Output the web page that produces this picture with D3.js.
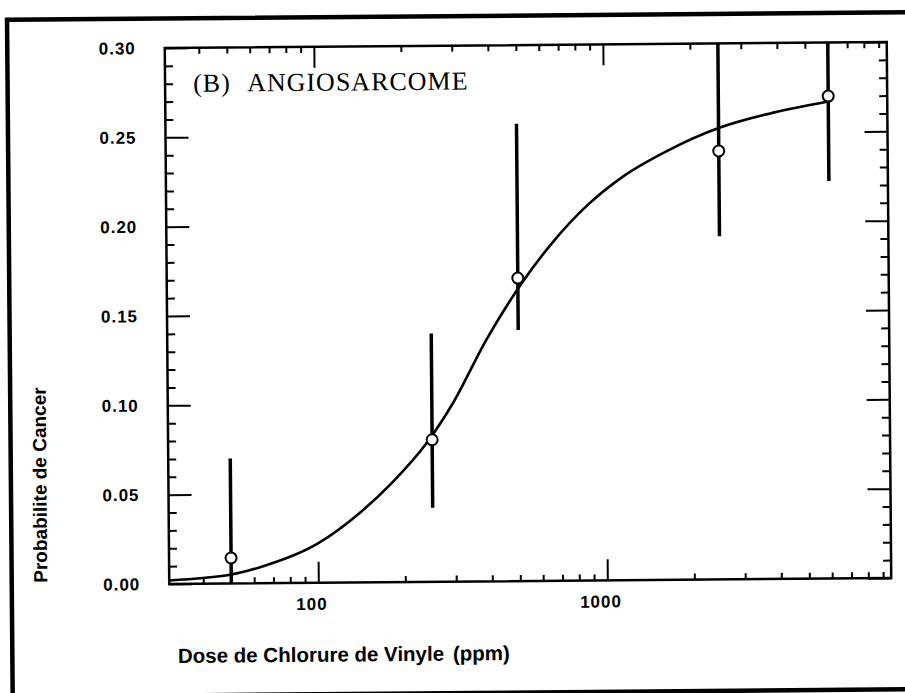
<!DOCTYPE html>
<html>
<head>
<meta charset="utf-8">
<script src="https://cdn.jsdelivr.net/npm/d3@7"></script>
<style>
  body { margin: 0; background: #fff; }
  svg { display: block; }
</style>
</head>
<body>
<script>
// points mesures: dose (ppm), probabilite et intervalle
var doses = [50, 250, 500, 2500, 6000];
var probabilites = [0.0143, 0.0795, 0.1696, 0.2398, 0.270];
var bornesBasses = [0.0, 0.0414, 0.1405, 0.192, 0.2225];
var bornesHautes = [0.070, 0.139, 0.256, 0.30, 0.30];

// courbe ajustee, lue point par point sur la figure
var courbeDoses = [30.5, 50, 63, 100, 140, 182, 240, 296, 387, 512, 666, 881, 1153, 1679, 2500, 3873, 6000];
var courbeProbas = [0.002, 0.005, 0.009, 0.022, 0.039, 0.056, 0.078, 0.100, 0.135, 0.166, 0.190, 0.2105, 0.2255, 0.2405, 0.2526, 0.261, 0.267];

// graduations
var yGraduations = [0, 0.05, 0.10, 0.15, 0.20, 0.25, 0.30];
var xGraduations = [100, 1000];
var xEtiquettes = ["100", "1000"];

var breedte = 905, hoogte = 693;
var marge = {links: 167, rechts: 889, boven: 45, beneden: 581};

var svg = d3.select("body").append("svg")
    .attr("width", breedte)
    .attr("height", hoogte);

// le scan est legerement tourne
var g = svg.append("g")
    .attr("transform", "rotate(-0.48, 528, 313)");

// cadre exterieur
g.append("rect")
    .attr("x", 9.5).attr("y", 15.5)
    .attr("width", 930).attr("height", 677)
    .attr("fill", "none")
    .attr("stroke", "#000")
    .attr("stroke-width", 4.5);

var x = d3.scaleLog()
    .domain([30.5, 9600])
    .range([marge.links, marge.rechts]);

var y = d3.scaleLinear()
    .domain([0, 0.30])
    .range([marge.beneden, marge.boven]);

var xMineures = x.ticks().filter(function(d) { return xGraduations.indexOf(d) < 0; });
var yMineures = y.ticks(30).filter(function(d) {
  return yGraduations.every(function(m) { return Math.abs(m - d) > 1e-6; });
});

function stijl(sel) {
  sel.select(".domain").remove();
  sel.selectAll(".tick line").attr("stroke", "#000").attr("stroke-width", 2);
  sel.selectAll("text")
    .attr("fill", "#000")
    .style("font-family", "'Liberation Sans', Arial, sans-serif")
    .style("font-weight", "bold")
    .style("font-size", "17px")
    .style("letter-spacing", "1px");
}

// axe y gauche
g.append("g")
    .attr("transform", "translate(" + marge.links + ",0)")
    .call(d3.axisLeft(y).tickValues(yGraduations).tickSizeInner(-23).tickSizeOuter(0)
      .tickPadding(29).tickFormat(d3.format(".2f")))
    .call(stijl);
g.append("g")
    .attr("transform", "translate(" + marge.links + ",0)")
    .call(d3.axisLeft(y).tickValues(yMineures).tickSizeInner(-8).tickSizeOuter(0).tickFormat(""))
    .call(stijl);

// axe y droit
g.append("g")
    .attr("transform", "translate(" + marge.rechts + ",0)")
    .call(d3.axisRight(y).tickValues(yGraduations).tickSizeInner(-23).tickSizeOuter(0).tickFormat(""))
    .call(stijl);
g.append("g")
    .attr("transform", "translate(" + marge.rechts + ",0)")
    .call(d3.axisRight(y).tickValues(yMineures).tickSizeInner(-8).tickSizeOuter(0).tickFormat(""))
    .call(stijl);

// axe x bas
var asX = g.append("g")
    .attr("transform", "translate(0," + marge.beneden + ")")
    .call(d3.axisBottom(x).tickValues(xGraduations).tickSizeInner(-21).tickSizeOuter(0)
      .tickPadding(15).tickFormat(function(d, i) { return xEtiquettes[i]; }))
    .call(stijl);
asX.selectAll("text").attr("dx", -7);
g.append("g")
    .attr("transform", "translate(0," + marge.beneden + ")")
    .call(d3.axisBottom(x).tickValues(xMineures).tickSizeInner(-6).tickSizeOuter(0).tickFormat(""))
    .call(stijl);

// axe x haut
g.append("g")
    .attr("transform", "translate(0," + marge.boven + ")")
    .call(d3.axisTop(x).tickValues(xGraduations).tickSizeInner(-21).tickSizeOuter(0).tickFormat(""))
    .call(stijl);
g.append("g")
    .attr("transform", "translate(0," + marge.boven + ")")
    .call(d3.axisTop(x).tickValues(xMineures).tickSizeInner(-6).tickSizeOuter(0).tickFormat(""))
    .call(stijl);

// cadre du graphique
g.append("rect")
    .attr("x", x.range()[0]).attr("y", y.range()[1])
    .attr("width", x.range()[1] - x.range()[0])
    .attr("height", y.range()[0] - y.range()[1])
    .attr("fill", "none")
    .attr("stroke", "#000")
    .attr("stroke-width", 2.5);

// courbe
var lijn = d3.line()
    .x(function(d) { return x(d[0]); })
    .y(function(d) { return y(d[1]); })
    .curve(d3.curveMonotoneX);

g.append("path")
    .datum(d3.zip(courbeDoses, courbeProbas))
    .attr("d", lijn)
    .attr("fill", "none")
    .attr("stroke", "#000")
    .attr("stroke-width", 2.6);

var punten = doses.map(function(d, i) {
  return {dose: d, p: probabilites[i], laag: bornesBasses[i], hoog: bornesHautes[i]};
});

// barres d'erreur
g.selectAll(".fout")
    .data(punten)
    .enter().append("line")
    .attr("class", "fout")
    .attr("x1", function(d) { return x(d.dose); })
    .attr("x2", function(d) { return x(d.dose); })
    .attr("y1", function(d) { return y(d.laag); })
    .attr("y2", function(d) { return y(d.hoog); })
    .attr("stroke", "#000")
    .attr("stroke-width", 3.5);

// points
g.selectAll(".punt")
    .data(punten)
    .enter().append("circle")
    .attr("class", "punt")
    .attr("cx", function(d) { return x(d.dose); })
    .attr("cy", function(d) { return y(d.p); })
    .attr("r", 5.5)
    .attr("fill", "#fff")
    .attr("stroke", "#000")
    .attr("stroke-width", 2);

// titre
var titel = g.append("text")
    .attr("y", 89)
    .style("font-family", "'Liberation Serif', 'Times New Roman', serif")
    .style("font-size", "26px")
    .style("letter-spacing", "1px")
    .attr("fill", "#000");
titel.append("tspan").attr("x", 195).text("(B)");
titel.append("tspan").attr("x", 249).text("ANGIOSARCOME");

// titres des axes
g.append("text")
    .attr("transform", "translate(45,481) rotate(-90)")
    .attr("text-anchor", "middle")
    .style("font-family", "'Liberation Sans', Arial, sans-serif")
    .style("font-weight", "bold")
    .style("font-size", "19px")
    .attr("fill", "#000")
    .text("Probabilite de Cancer");

var asTitel = g.append("text")
    .attr("y", 660)
    .style("font-family", "'Liberation Sans', Arial, sans-serif")
    .style("font-weight", "bold")
    .style("font-size", "20.5px")
    .attr("fill", "#000");
asTitel.append("tspan").attr("x", 175).text("Dose de Chlorure de Vinyle");
asTitel.append("tspan").attr("x", 450).text("(ppm)");
</script>
</body>
</html>
